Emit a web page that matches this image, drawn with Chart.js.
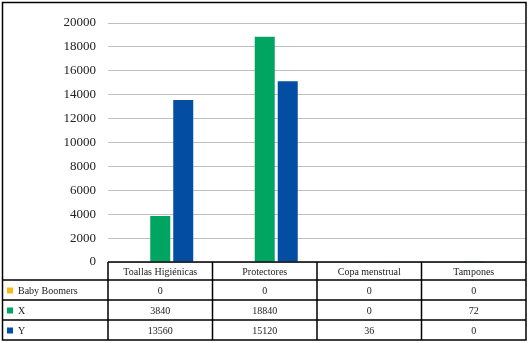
<!DOCTYPE html>
<html>
<head>
<meta charset="utf-8">
<script src="https://cdn.jsdelivr.net/npm/chart.js@4/dist/chart.umd.min.js"></script>
<style>
  html, body { margin: 0; padding: 0; background: #fff; }
  #wrap { width: 530px; height: 343px; position: relative; }
  #probe { position: absolute; left: -9999px; font-family: 'Liberation Serif', serif; }
</style>
</head>
<body>
<div id="wrap"><canvas id="c" width="530" height="343"></canvas></div>
<span id="probe">Toallas Higiénicas 0123456789</span>
<script>
const categories  = ['Toallas Higiénicas', 'Protectores', 'Copa menstrual', 'Tampones'];
const babyBoomers = [0, 0, 0, 0];
const genX        = [3840, 18840, 0, 72];
const genY        = [13560, 15120, 36, 0];

const seriesNames = ['Baby Boomers', 'X', 'Y'];
const COLORS = ['#FDB913', '#00A562', '#034EA2'];
const FONT = '"Liberation Serif", "DejaVu Serif", serif';

/* Tabla de datos bajo el eje X, estilo Excel: columnas alineadas con las categorías */
const dataTable = {
  id: 'dataTable',
  afterDraw(chart) {
    const { ctx, chartArea: a } = chart;
    const n = categories.length;
    const colW = (a.right - a.left) / n;
    const top = a.bottom, rowH = [18, 20, 20, 20];
    const rowsY = [top];
    rowH.forEach(h => rowsY.push(rowsY[rowsY.length - 1] + h));
    const left = 2.5, right = a.right;
    const values = [babyBoomers, genX, genY];

    ctx.save();
    ctx.strokeStyle = '#000';
    ctx.lineWidth = 1.5;

    // marco exterior
    ctx.strokeRect(left, 2.5, right - left, rowsY[4] - 2.5);

    ctx.beginPath();
    ctx.moveTo(a.left, top); ctx.lineTo(right, top);
    for (let r = 1; r < 4; r++) { ctx.moveTo(left, rowsY[r]); ctx.lineTo(right, rowsY[r]); }
    for (let i = 0; i < n; i++) {
      const x = a.left + i * colW;
      ctx.moveTo(x, top); ctx.lineTo(x, rowsY[4]);
    }
    ctx.stroke();

    ctx.fillStyle = '#222';
    ctx.font = '10px ' + FONT;
    ctx.textBaseline = 'middle';
    ctx.textAlign = 'center';
    categories.forEach((c, i) => {
      ctx.fillText(c, a.left + (i + 0.5) * colW, (rowsY[0] + rowsY[1]) / 2 + 1);
    });

    seriesNames.forEach((name, s) => {
      const yMid = (rowsY[s + 1] + rowsY[s + 2]) / 2 + 1;
      ctx.fillStyle = COLORS[s];
      ctx.fillRect(7, yMid - 3.5, 6, 6);
      ctx.fillStyle = '#222';
      ctx.textAlign = 'left';
      ctx.fillText(name, 18, yMid);
      ctx.textAlign = 'center';
      values[s].forEach((v, i) => {
        ctx.fillText(String(v), a.left + (i + 0.5) * colW, yMid);
      });
    });
    ctx.restore();
  },
};

function draw() {
  new Chart(document.getElementById('c'), {
    type: 'bar',
    data: {
      labels: categories,
      datasets: [babyBoomers, genX, genY].map((d, i) => ({
        label: seriesNames[i],
        data: d,
        backgroundColor: COLORS[i],
        borderWidth: 0,
        categoryPercentage: 0.66,
        barPercentage: 0.87,
      })),
    },
    options: {
      responsive: false, animation: false,
      layout: { padding: { top: 23, bottom: 81, right: 4, left: 0 } },
      plugins: { legend: { display: false }, tooltip: { enabled: false } },
      scales: {
        x: { display: false },
        y: {
          min: 0, max: 20000,
          border: { display: false },
          grid: { color: '#BFBFBF', lineWidth: 1, drawTicks: false },
          ticks: {
            stepSize: 2000, padding: 12, color: '#222',
            font: { family: FONT, size: 13 },
            callback: (v) => String(v),
          },
          afterFit: (s) => { s.width = 108; },
        },
      },
    },
    plugins: [dataTable],
  });
}

if (document.fonts && document.fonts.load) {
  Promise.all([
    document.fonts.load('13px "Liberation Serif"'),
    document.fonts.load('10px "Liberation Serif"'),
  ]).then(draw, draw);
} else {
  draw();
}
</script>
</body>
</html>
